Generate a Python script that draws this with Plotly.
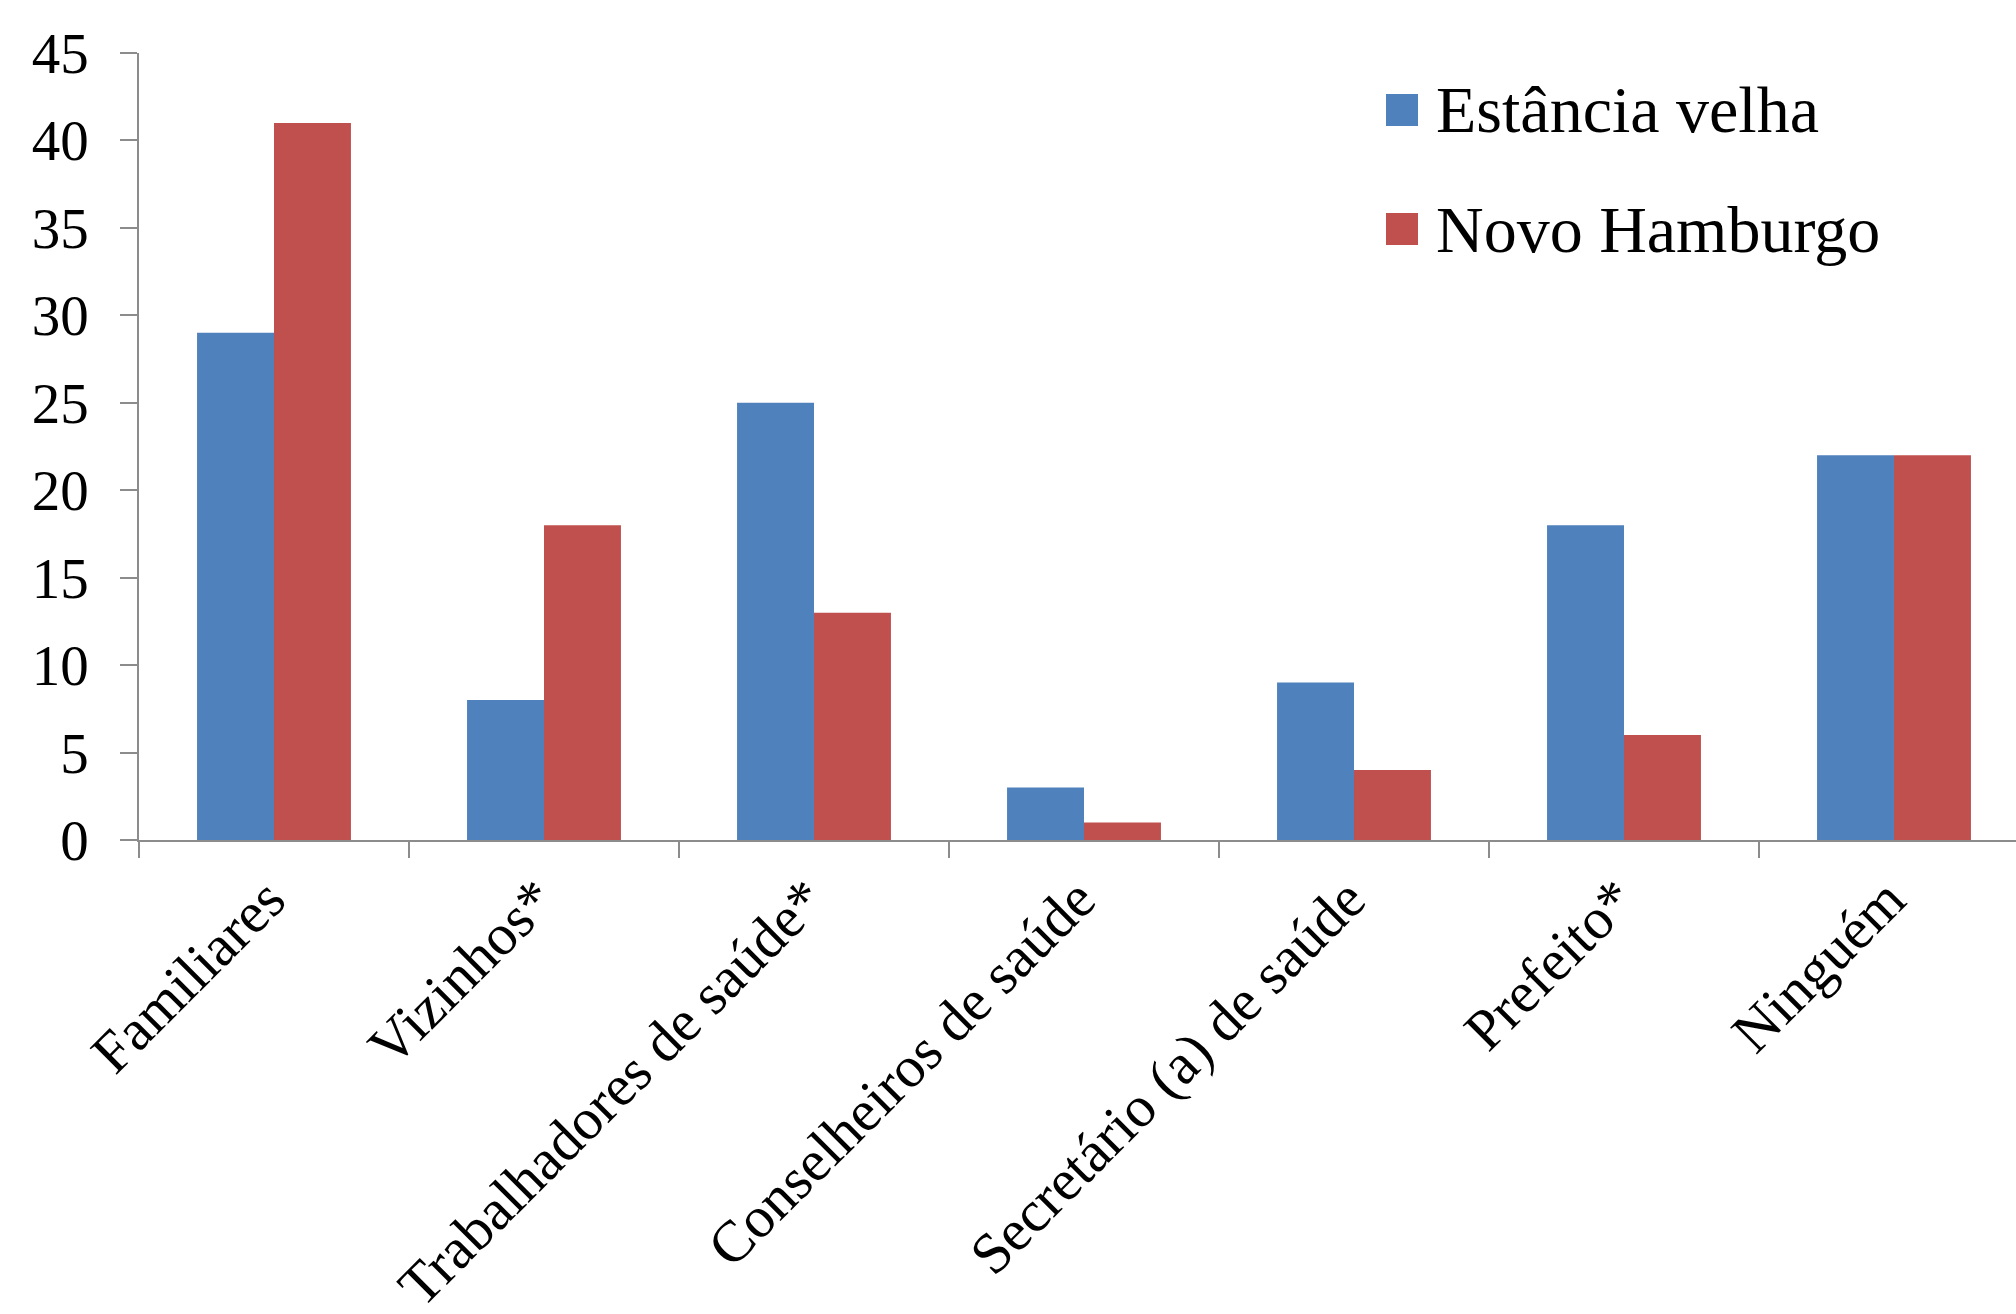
import plotly.graph_objects as go

# Respondent categories and counts per municipality
categorias = [
    "Familiares",
    "Vizinhos*",
    "Trabalhadores de saúde*",
    "Conselheiros de saúde",
    "Secretário (a) de saúde",
    "Prefeito*",
    "Ninguém",
]
estancia_velha = [29, 8, 25, 3, 9, 18, 22]
novo_hamburgo = [41, 18, 13, 1, 4, 6, 22]
series_nomes = ["Estância velha", "Novo Hamburgo"]
series_cores = ["#4F81BD", "#C0504D"]
y_ticks = [0, 5, 10, 15, 20, 25, 30, 35, 40, 45]

W, H = 2016, 1314
# Plot area in pixels
PL, PR, PT, PB = 139, 2016, 53, 840
FONT = "Liberation Serif"
AXIS_COLOR = "#8C8C8C"

fig = go.Figure()
for nome, valores, cor in zip(series_nomes, [estancia_velha, novo_hamburgo], series_cores):
    fig.add_trace(go.Bar(
        x=categorias, y=valores, name=nome,
        marker=dict(color=cor, line=dict(width=0)),
        showlegend=False,
    ))

cat_w = (PR - PL) / 270.0  # number of categories visible across plot width

fig.update_layout(
    template="none",
    width=W, height=H,
    margin=dict(l=PL, r=W - PR, t=PT, b=H - PB, pad=0),
    paper_bgcolor="white", plot_bgcolor="white",
    barmode="group", bargap=0.43, bargroupgap=0,
    font=dict(family=FONT, color="black"),
    xaxis=dict(
        type="category",
        range=[-0.5, -0.5 + cat_w],
        showgrid=False, zeroline=False,
        showline=True, linecolor=AXIS_COLOR, linewidth=2,
        ticks="outside", tickson="boundaries", ticklen=16,
        tickcolor=AXIS_COLOR, tickwidth=1.5,
        tickangle=-45,
        tickfont=dict(family=FONT, size=58, color="black"),
        ticklabelshift=-6,
        automargin=False,
    ),
    yaxis=dict(
        range=[0, 45],
        tickvals=y_ticks,
        showgrid=False, zeroline=False,
        showline=True, linecolor=AXIS_COLOR, linewidth=1.5,
        ticks="outside", ticklen=17, tickcolor=AXIS_COLOR, tickwidth=1.5,
        tickfont=dict(family=FONT, size=57, color="black"),
        ticklabelstandoff=20,
        automargin=False,
    ),
)

# Legend drawn as square swatches with labels
def px_x(x):
    return (x - PL) / (PR - PL)

def px_y(y):
    return (PB - y) / (PB - PT)

legend_rows = [(94, 126), (213, 245)]
for (top, bot), nome, cor in zip(legend_rows, series_nomes, series_cores):
    fig.add_shape(
        type="rect", xref="paper", yref="paper",
        x0=px_x(1386), x1=px_x(1418), y0=px_y(bot), y1=px_y(top),
        fillcolor=cor, line=dict(width=0),
    )
    fig.add_annotation(
        xref="paper", yref="paper",
        x=px_x(1434), y=px_y((top + bot) / 2),
        xanchor="left", yanchor="middle",
        text=nome, showarrow=False,
        font=dict(family=FONT, size=66, color="black"),
    )

fig.write_html("out.html")
